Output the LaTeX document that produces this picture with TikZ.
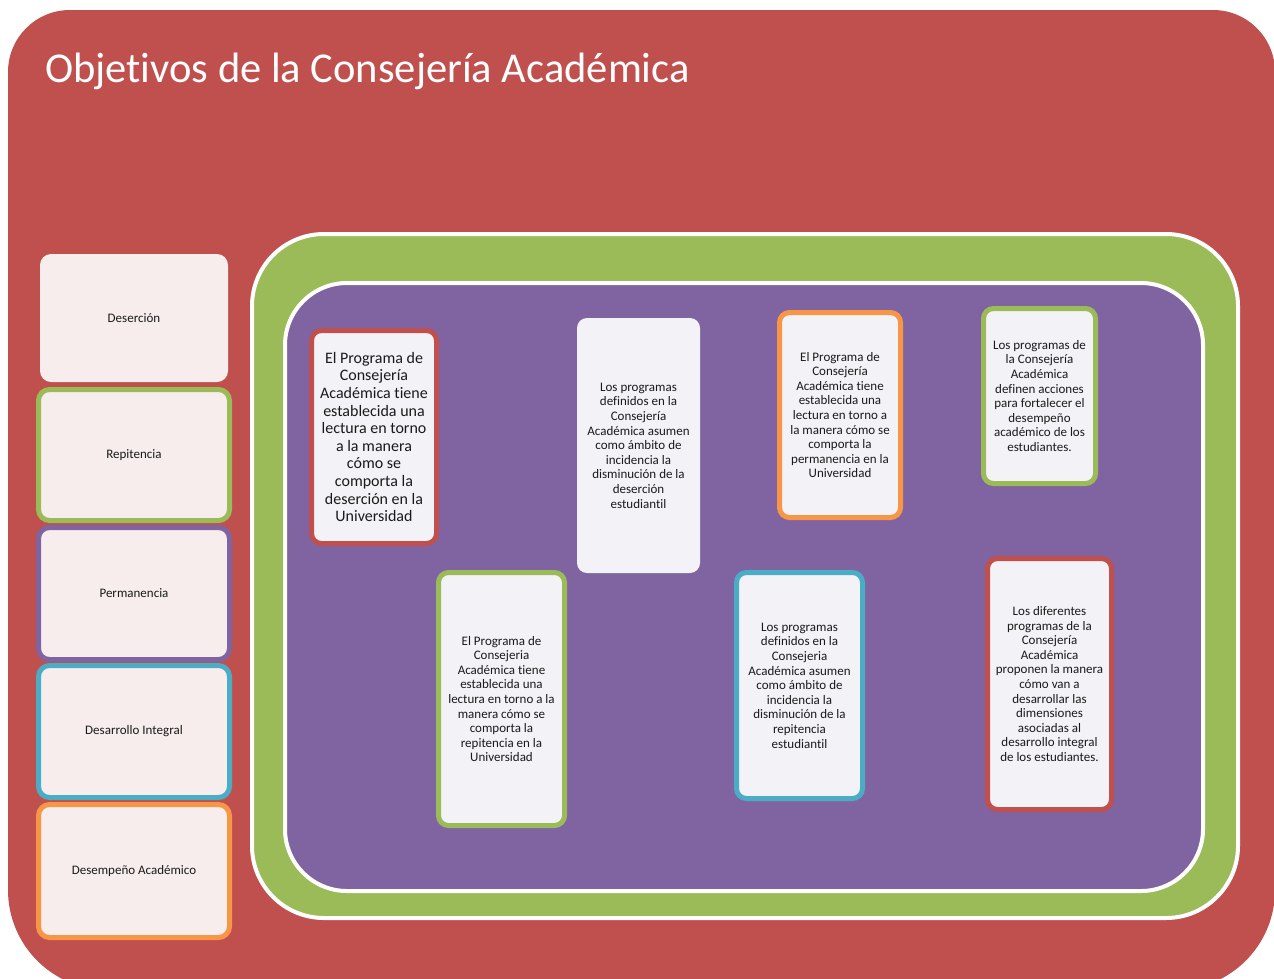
\documentclass[tikz,border=0pt]{standalone}
\usepackage{fontspec}
\setmainfont[Ligatures=NoCommon]{Carlito}
\definecolor{bgred}{HTML}{C0504D}
\definecolor{frgreen}{HTML}{9BBB59}
\definecolor{frpurple}{HTML}{8064A2}
\definecolor{frblue}{HTML}{4BACC6}
\definecolor{frorange}{HTML}{F79646}
\definecolor{leftfill}{HTML}{F7EDED}
\definecolor{cardfill}{HTML}{F3F2F6}
\definecolor{txt}{HTML}{1A1A1A}
\tikzset{
  leftbox/.style={rectangle, rounded corners=11pt, fill=leftfill, line width=5pt,
    minimum width=191pt, minimum height=131pt, inner sep=0pt, text=txt,
    font=\fontsize{13}{14.6}\selectfont},
  card/.style={rectangle, rounded corners=10pt, fill=cardfill, line width=5pt,
    inner sep=0pt, align=center, text=txt, font=\fontsize{13}{14.6}\selectfont},
  bigcard/.style={card, font=\fontsize{16}{17.6}\selectfont},
  titletext/.style={anchor=base west, text=white, font=\fontsize{42.5}{48}\selectfont, inner sep=0pt}
}
\begin{document}
\begin{tikzpicture}[x=1pt,y=-1pt]
\useasboundingbox (0,0) rectangle (1274,978);
\clip (0,0) rectangle (1274,978);
\fill[white] (0,0) rectangle (1274,978);
% outer red panel
\fill[bgred] [rounded corners=62pt] (8,500) -- (8,10) -- (1275,10) -- (1275,500)
   [rounded corners=100pt] -- (1275,990) -- (8,990) -- cycle;
\node[titletext] (title) at (45,82) {Objetivos de la Consejería Académica};
% green frame and purple panel
\draw[fill=frgreen, draw=white, line width=4pt, rounded corners=72pt] (252,234) rectangle (1238,918);
\draw[fill=frpurple, draw=white, line width=4pt, rounded corners=62pt] (285,283) rectangle (1203,891);
% left column
\node[leftbox, minimum width=188pt, minimum height=128pt] (des) at (134,318) {Deserción};
\node[leftbox, draw=frgreen] (rep) at (134,455) {Repitencia};
\node[leftbox, draw=frpurple, minimum height=132pt] (per) at (134,593.5) {Permanencia};
\node[leftbox, draw=frblue, minimum height=132pt] (dint) at (134,731.5) {Desarrollo Integral};
\node[leftbox, draw=frorange, minimum height=133pt] (dac) at (134,871) {Desempeño Académico};
% cards
\node[bigcard, draw=bgred, minimum width=125pt, minimum height=213pt] (c1) at (374,437)
  {El Programa de\\Consejería\\Académica tiene\\establecida una\\lectura en torno\\a la manera\\cómo se\\comporta la\\deserción en la\\Universidad};
\node[card, minimum width=123pt, minimum height=255pt] (c2) at (638.5,445.5)
  {Los programas\\definidos en la\\Consejería\\Académica asumen\\como ámbito de\\incidencia la\\disminución de la\\deserción\\estudiantil};
\node[card, draw=frorange, minimum width=121pt, minimum height=205pt] (c3) at (840,415)
  {El Programa de\\Consejería\\Académica tiene\\establecida una\\lectura en torno a\\la manera cómo se\\comporta la\\permanencia en la\\Universidad};
\node[card, draw=frgreen, minimum width=112pt, minimum height=175pt] (c4) at (1039.5,396)
  {Los programas de\\la Consejería\\Académica\\definen acciones\\para fortalecer el\\desempeño\\académico de los\\estudiantes.};
\node[card, draw=frgreen, minimum width=126pt, minimum height=253pt] (c5) at (501.5,699)
  {El Programa de\\Consejeria\\Académica tiene\\establecida una\\lectura en torno a la\\manera cómo se\\comporta la\\repitencia en la\\Universidad};
\node[card, draw=frblue, minimum width=126pt, minimum height=226pt] (c6) at (799.5,685.5)
  {Los programas\\definidos en la\\Consejeria\\Académica asumen\\como ámbito de\\incidencia la\\disminución de la\\repitencia\\estudiantil};
\node[card, draw=bgred, minimum width=124pt, minimum height=251pt] (c7) at (1049.5,684)
  {Los diferentes\\programas de la\\Consejería\\Académica\\proponen la manera\\cómo van a\\desarrollar las\\dimensiones\\asociadas al\\desarrollo integral\\de los estudiantes.};
\end{tikzpicture}
\end{document}
